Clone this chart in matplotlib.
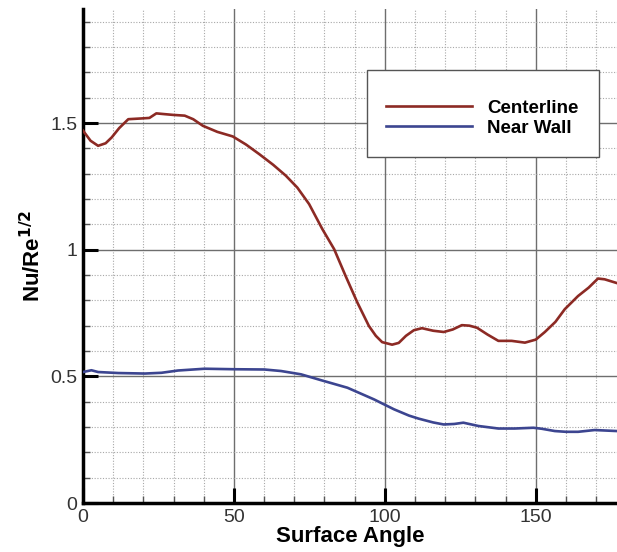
import matplotlib
matplotlib.use("Agg")
import matplotlib.pyplot as plt
from matplotlib.ticker import MultipleLocator
from matplotlib.patches import Rectangle

plt.rcParams['font.family'] = ['Liberation Sans', 'DejaVu Sans']

center_x = [0, 2.5, 5.0, 7.5, 9.5, 12, 15, 19.4, 22, 24.3, 27, 29.8, 33.7, 36.5, 39.7, 44.5, 49.6, 54,
            58.4, 63, 67.2, 71, 74.9, 79.3, 83.2, 87, 90.9, 94.7, 97, 99.1, 102.4, 104.6, 107, 109.6,
            112.3, 116, 119.5, 122.5, 125.5, 128, 130.5, 134, 137.6, 142, 146.4, 150, 153, 156.5,
            159.6, 164, 167.5, 170.6, 172.8, 176.9]
center_y = [1.47, 1.43, 1.41, 1.42, 1.443, 1.48, 1.515, 1.518, 1.52, 1.538, 1.535, 1.532, 1.529, 1.515,
            1.489, 1.465, 1.447, 1.415, 1.377, 1.335, 1.292, 1.245, 1.18, 1.081, 1.002, 0.896, 0.791,
            0.699, 0.66, 0.635, 0.625, 0.632, 0.66, 0.682, 0.69, 0.68, 0.675, 0.685, 0.702, 0.70,
            0.692, 0.665, 0.64, 0.64, 0.633, 0.645, 0.675, 0.715, 0.765, 0.817, 0.85, 0.886, 0.883,
            0.868]

wall_x = [0, 2.8, 5, 11.7, 20.5, 26, 31.5, 40.3, 50.2, 60.1, 65.6, 72.2, 78.8, 87.6, 96.4, 103,
          108, 111.2, 116, 119.5, 123, 126, 131, 137.6, 143, 149.2, 152, 156.3, 160, 164, 169.5,
          176.9]
wall_y = [0.517, 0.524, 0.517, 0.513, 0.511, 0.514, 0.523, 0.530, 0.528, 0.527, 0.521, 0.508, 0.485,
          0.455, 0.409, 0.37, 0.345, 0.333, 0.318, 0.310, 0.312, 0.317, 0.304, 0.294, 0.294, 0.297,
          0.293, 0.284, 0.281, 0.281, 0.288, 0.284]

xticks = [0, 50, 100, 150]
yticks = [0, 0.5, 1, 1.5]
ytick_labels = ["0", "0.5", "1", "1.5"]

W, H = 617, 552
AX_L, AX_B, AX_T = 83, 503, 9
AX_W = W - AX_L
AX_H = AX_B - AX_T

fig = plt.figure(figsize=(W / 100, H / 100), dpi=100)
ax = fig.add_axes([AX_L / W, 1 - AX_B / H, AX_W / W, AX_H / H])


def axfrac(px, py):
    return (px - AX_L) / AX_W, (AX_B - py) / AX_H


ax.plot(center_x, center_y, color='#8c2a24', lw=1.9, label='Centerline', zorder=3)
ax.plot(wall_x, wall_y, color='#3c4590', lw=1.9, label='Near Wall', zorder=3)

ax.set_xlim(0, 176.9)
ax.set_ylim(0, 1.95)
ax.xaxis.set_minor_locator(MultipleLocator(10))
ax.yaxis.set_minor_locator(MultipleLocator(0.1))
ax.set_xticks(xticks)
ax.set_xticklabels([str(t) for t in xticks])
ax.set_yticks(yticks)
ax.set_yticklabels(ytick_labels)

ax.grid(which='major', color='#6e6e6e', lw=1.0, ls='-')
ax.grid(which='minor', color='#a8a8a8', lw=0.8, ls=(0, (1, 1.5)))
ax.set_axisbelow(True)

for s in ['top', 'right']:
    ax.spines[s].set_visible(False)
for s in ['left', 'bottom']:
    ax.spines[s].set_linewidth(2.5)
    ax.spines[s].set_color('black')

ax.tick_params(which='major', direction='in', length=11, width=2.2, labelsize=14, pad=4,
               colors='black', labelcolor='#333333')
ax.tick_params(which='minor', direction='in', length=5, width=1.0, color='#555555')

ax.set_xlabel('Surface Angle', fontsize=16, fontweight='bold', labelpad=0)
ax.set_ylabel(r'Nu/Re$^{\mathbf{1/2}}$', fontsize=16, fontweight='bold', labelpad=4)

# legend frame
x0, y0 = axfrac(367, 157)
x1, y1 = axfrac(599, 70)
ax.add_patch(Rectangle((x0, y0), x1 - x0, y1 - y0, transform=ax.transAxes,
                       facecolor='white', edgecolor='#555555', lw=1.0, zorder=4))

lx, ly = axfrac(386, 118)
leg = ax.legend(loc='center left', bbox_to_anchor=(lx, ly), frameon=False,
                prop={'weight': 'bold', 'size': 13.5}, handlelength=4.6, handletextpad=0.8,
                borderpad=0, labelspacing=0.15, borderaxespad=0)
leg.set_zorder(5)

fig.savefig('out.png', dpi=100)
